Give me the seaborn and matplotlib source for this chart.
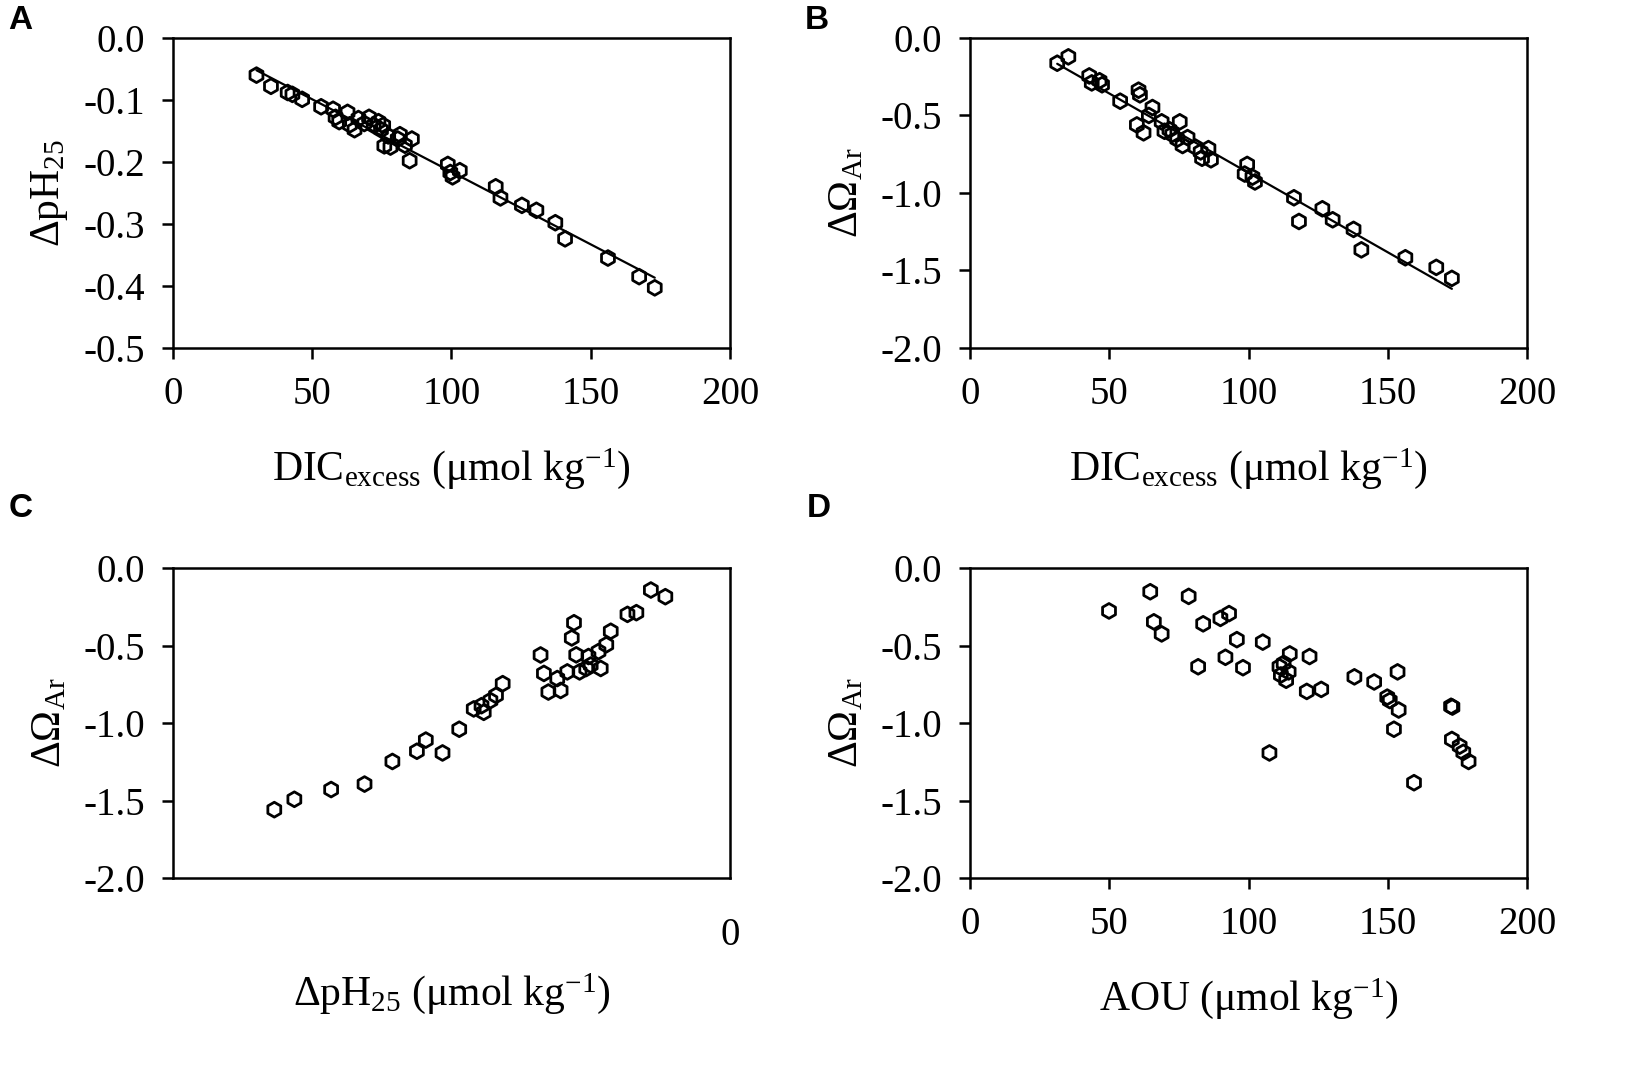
import numpy as np
import pandas as pd
import matplotlib
matplotlib.use("Agg")
import matplotlib.pyplot as plt
import seaborn as sns

# Panel A: DICexcess vs dpH25
dic_a = [30.0, 35.2, 41.2, 42.9, 46.4, 53.2, 57.5, 58.4, 59.7, 62.7, 63.5, 65.2, 66.6,
         68.7, 70.4, 72.1, 73.8, 74.7, 75.5, 75.9, 77.3, 78.1, 80.7, 81.5, 83.3, 85.8,
         85.0, 98.7, 99.6, 100.4, 103.0, 115.9, 117.6, 125.3, 130.5, 137.3, 140.8,
         156.2, 167.4, 173.0]
dph_a = [-0.060, -0.078, -0.088, -0.091, -0.099, -0.111, -0.115, -0.128, -0.135, -0.120,
         -0.140, -0.148, -0.130, -0.138, -0.128, -0.141, -0.135, -0.148, -0.141, -0.174,
         -0.158, -0.176, -0.163, -0.156, -0.173, -0.163, -0.198, -0.204, -0.217, -0.224,
         -0.214, -0.240, -0.258, -0.270, -0.278, -0.298, -0.324, -0.355, -0.385, -0.403]

# Panel B: DICexcess vs dOmega_Ar
dic_b = [31.3, 35.3, 42.8, 43.7, 46.5, 47.4, 53.9, 60.5, 61.0, 59.9, 62.3, 64.2, 65.5,
         68.8, 69.8, 71.6, 72.6, 75.3, 74.4, 76.3, 78.1, 80.9, 82.8, 85.6, 83.3, 86.5,
         99.5, 98.6, 101.4, 102.3, 116.3, 118.1, 126.5, 130.2, 137.7, 140.5, 156.3,
         167.4, 173.0]
dom_b = [-0.163, -0.122, -0.245, -0.290, -0.276, -0.302, -0.408, -0.337, -0.367, -0.561,
         -0.612, -0.500, -0.449, -0.541, -0.602, -0.592, -0.622, -0.541, -0.653, -0.694,
         -0.643, -0.704, -0.735, -0.714, -0.776, -0.786, -0.816, -0.878, -0.898, -0.929,
         -1.031, -1.184, -1.102, -1.173, -1.235, -1.367, -1.418, -1.480, -1.551]

# Panel C: dpH25 vs dOmega_Ar
dph_c = [-0.409, -0.391, -0.358, -0.328, -0.303, -0.281, -0.273, -0.258, -0.243, -0.230,
         -0.223, -0.221, -0.215, -0.204, -0.210, -0.170, -0.167, -0.163, -0.155, -0.152,
         -0.146, -0.142, -0.140, -0.138, -0.135, -0.129, -0.127, -0.125, -0.118, -0.116,
         -0.111, -0.107, -0.092, -0.084, -0.071, -0.058]
dom_c = [-1.559, -1.492, -1.429, -1.394, -1.248, -1.182, -1.110, -1.193, -1.040, -0.909,
         -0.888, -0.931, -0.855, -0.746, -0.822, -0.561, -0.680, -0.800, -0.713, -0.790,
         -0.670, -0.451, -0.353, -0.560, -0.670, -0.648, -0.571, -0.626, -0.539, -0.648,
         -0.495, -0.408, -0.299, -0.288, -0.142, -0.185]

# Panel D: AOU vs dOmega_Ar
aou_d = [49.9, 64.7, 66.0, 68.8, 78.5, 81.9, 83.7, 89.9, 93.0, 91.7, 95.8, 98.0, 105.1,
         107.5, 111.1, 111.6, 113.5, 112.6, 114.4, 114.8, 120.9, 121.9, 126.1, 138.0,
         145.1, 149.8, 150.7, 153.5, 153.9, 152.2, 159.4, 172.7, 173.2, 173.0, 175.8,
         177.1, 179.0]
dom_d = [-0.277, -0.153, -0.347, -0.425, -0.183, -0.637, -0.360, -0.325, -0.294, -0.576,
         -0.462, -0.643, -0.478, -1.193, -0.637, -0.690, -0.724, -0.615, -0.670, -0.554,
         -0.796, -0.571, -0.783, -0.702, -0.735, -0.833, -0.855, -0.670, -0.916, -1.040,
         -1.385, -0.892, -0.897, -1.106, -1.149, -1.189, -1.248]

sns.set_style("ticks")
plt.rcParams['font.family'] = ['Liberation Serif', 'DejaVu Serif']
plt.rcParams['mathtext.fontset'] = 'custom'
plt.rcParams['mathtext.rm'] = 'Liberation Serif'
plt.rcParams['mathtext.it'] = 'Liberation Serif:italic'
plt.rcParams['axes.linewidth'] = 1.8
for k in ['axes.edgecolor', 'xtick.color', 'ytick.color', 'text.color',
          'axes.labelcolor', 'xtick.labelcolor', 'ytick.labelcolor']:
    plt.rcParams[k] = 'black'

fig = plt.figure(figsize=(16.5, 10.84), dpi=100)
x0s = [0.1048, 0.5879]
y0s = [0.679, 0.19]
w, h = 0.3376, 0.286

axA = fig.add_axes([x0s[0], y0s[0], w, h])
axB = fig.add_axes([x0s[1], y0s[0], w, h])
axC = fig.add_axes([x0s[0], y0s[1], w, h])
axD = fig.add_axes([x0s[1], y0s[1], w, h])

mk = dict(marker='h', s=115, facecolors='none', edgecolor='black', linewidth=2.0)
line = dict(color='black', lw=1.6)

sns.regplot(x=np.array(dic_a), y=np.array(dph_a), scatter=False, ci=None, line_kws=line, ax=axA)
sns.scatterplot(x=dic_a, y=dph_a, ax=axA, **mk)
sns.regplot(x=np.array(dic_b), y=np.array(dom_b), scatter=False, ci=None, line_kws=line, ax=axB)
sns.scatterplot(x=dic_b, y=dom_b, ax=axB, **mk)
sns.scatterplot(x=dph_c, y=dom_c, ax=axC, **mk)
sns.scatterplot(x=aou_d, y=dom_d, ax=axD, **mk)

unit = r' ($\mathrm{\mu}$mol kg$^{\mathrm{-1}}$)'
labels = {
    axA: (r'DIC$_{\mathrm{excess}}$' + unit, r'$\Delta$pH$_{\mathrm{25}}$'),
    axB: (r'DIC$_{\mathrm{excess}}$' + unit, r'$\Delta\Omega_{\mathrm{Ar}}$'),
    axC: (r'$\Delta$pH$_{\mathrm{25}}$' + unit, r'$\Delta\Omega_{\mathrm{Ar}}$'),
    axD: (r'AOU' + unit, r'$\Delta\Omega_{\mathrm{Ar}}$'),
}

for ax in [axA, axB, axC, axD]:
    xl, yl = labels[ax]
    ax.set_xlabel(xl, fontsize=30, labelpad=24)
    ax.set_ylabel(yl, fontsize=30, labelpad=10)
    ax.tick_params(axis='both', labelsize=28, width=1.8, length=8, direction='out', pad=12)
    for s in ax.spines.values():
        s.set_visible(True)
        s.set_linewidth(1.8)

axA.set_xlim(0, 200)
axA.set_ylim(-0.5, 0)
axA.set_xticks([0, 50, 100, 150, 200])
axA.set_yticks([0, -0.1, -0.2, -0.3, -0.4, -0.5])
axA.set_yticklabels(['0.0', '-0.1', '-0.2', '-0.3', '-0.4', '-0.5'])

for ax in [axB, axC, axD]:
    ax.set_ylim(-2.0, 0)
    ax.set_yticks([0, -0.5, -1.0, -1.5, -2.0])
    ax.set_yticklabels(['0.0', '-0.5', '-1.0', '-1.5', '-2.0'])

for ax in [axB, axD]:
    ax.set_xlim(0, 200)
    ax.set_xticks([0, 50, 100, 150, 200])

axC.set_xlim(-0.5, 0)
axC.set_xticks([0])
axC.set_xticklabels(['0'])
axC.tick_params(axis='x', length=0, pad=28)
axC.xaxis.labelpad = 12

letter_pos = {'A': (0.005, 0.995), 'B': (0.488, 0.995), 'C': (0.005, 0.545), 'D': (0.489, 0.545)}
for letter, (lx, ly) in letter_pos.items():
    fig.text(lx, ly, letter, fontsize=24, fontweight='bold', family='Liberation Sans', va='top')

fig.savefig('out.png', dpi=100, facecolor='white')
